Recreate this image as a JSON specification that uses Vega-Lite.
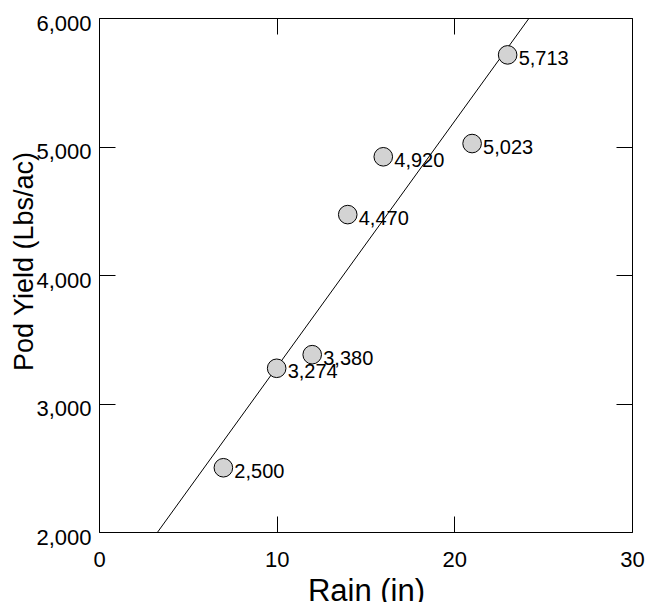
{
  "$schema": "https://vega.github.io/schema/vega-lite/v6.json",
  "width": 533,
  "height": 514,
  "autosize": {"type": "none"},
  "padding": {"left": 99, "top": 18, "right": 14, "bottom": 70},
  "background": "white",
  "config": {
    "view": {"stroke": null},
    "font": "Liberation Sans",
    "axis": {
      "grid": false,
      "domainColor": "black",
      "tickColor": "black",
      "labelColor": "black",
      "titleColor": "black",
      "labelFont": "Liberation Sans",
      "titleFont": "Liberation Sans",
      "titleFontWeight": "normal",
      "domainWidth": 1,
      "tickWidth": 1
    }
  },
  "data": {
    "values": [
      {"rain": 7, "yield": 2500, "label": "2,500"},
      {"rain": 10, "yield": 3274, "label": "3,274"},
      {"rain": 12, "yield": 3380, "label": "3,380"},
      {"rain": 14, "yield": 4470, "label": "4,470"},
      {"rain": 16, "yield": 4920, "label": "4,920"},
      {"rain": 21, "yield": 5023, "label": "5,023"},
      {"rain": 23, "yield": 5713, "label": "5,713"}
    ]
  },
  "layer": [
    {
      "transform": [{"regression": "yield", "on": "rain", "extent": [0, 30]}],
      "mark": {"type": "line", "color": "black", "strokeWidth": 1, "clip": true},
      "encoding": {
        "x": {"field": "rain", "type": "quantitative", "scale": {"domain": [0, 30], "nice": false, "zero": false}, "axis": null},
        "y": {"field": "yield", "type": "quantitative", "scale": {"domain": [2000, 6000], "nice": false, "zero": false}, "axis": null}
      }
    },
    {
      "mark": {"type": "point", "shape": "circle", "filled": true, "fill": "#d3d3d3", "stroke": "black", "strokeWidth": 1, "opacity": 1, "size": 346},
      "encoding": {
        "x": {
          "field": "rain",
          "type": "quantitative",
          "scale": {"domain": [0, 30], "nice": false, "zero": false},
          "axis": {
            "title": "Rain (in)",
            "values": [0, 10, 20, 30],
            "tickSize": -16,
            "labelFontSize": 22,
            "titleFontSize": 31,
            "labelPadding": 33,
            "titleX": 267,
            "titleY": 68,
            "titleBaseline": "alphabetic",
            "titleAnchor": null,
            "titleAlign": "center",
            "labelFlush": false,
            "labelOverlap": false
          }
        },
        "y": {
          "field": "yield",
          "type": "quantitative",
          "scale": {"domain": [2000, 6000], "nice": false, "zero": false},
          "axis": {
            "title": "Pod Yield (Lbs/ac)",
            "values": [2000, 3000, 4000, 5000, 6000],
            "format": ",d",
            "tickSize": -16,
            "labelFontSize": 22,
            "titleFontSize": 27,
            "labelPadding": 24,
            "labelOffset": 5,
            "titleX": -67,
            "titleY": 243,
            "titleAngle": -90,
            "titleBaseline": "alphabetic",
            "titleAlign": "center",
            "titleAnchor": null,
            "labelFlush": false,
            "labelOverlap": false
          }
        }
      }
    },
    {
      "mark": {"type": "text", "align": "left", "baseline": "middle", "dx": 11, "dy": 4, "fontSize": 20, "font": "Liberation Sans", "color": "black"},
      "encoding": {
        "x": {"field": "rain", "type": "quantitative", "scale": {"domain": [0, 30], "nice": false, "zero": false}, "axis": null},
        "y": {"field": "yield", "type": "quantitative", "scale": {"domain": [2000, 6000], "nice": false, "zero": false}, "axis": null},
        "text": {"field": "label"}
      }
    },
    {
      "mark": {"type": "rule", "opacity": 0},
      "encoding": {
        "x": {"field": "rain", "type": "quantitative", "scale": {"domain": [0, 30], "nice": false, "zero": false}, "axis": {"orient": "top", "values": [0, 10, 20, 30], "tickSize": -16, "labels": false, "title": null}},
        "y": {"field": "yield", "type": "quantitative", "scale": {"domain": [2000, 6000], "nice": false, "zero": false}, "axis": {"orient": "right", "values": [2000, 3000, 4000, 5000, 6000], "tickSize": -16, "labels": false, "title": null}}
      }
    }
  ],
  "resolve": {"axis": {"x": "independent", "y": "independent"}}
}
